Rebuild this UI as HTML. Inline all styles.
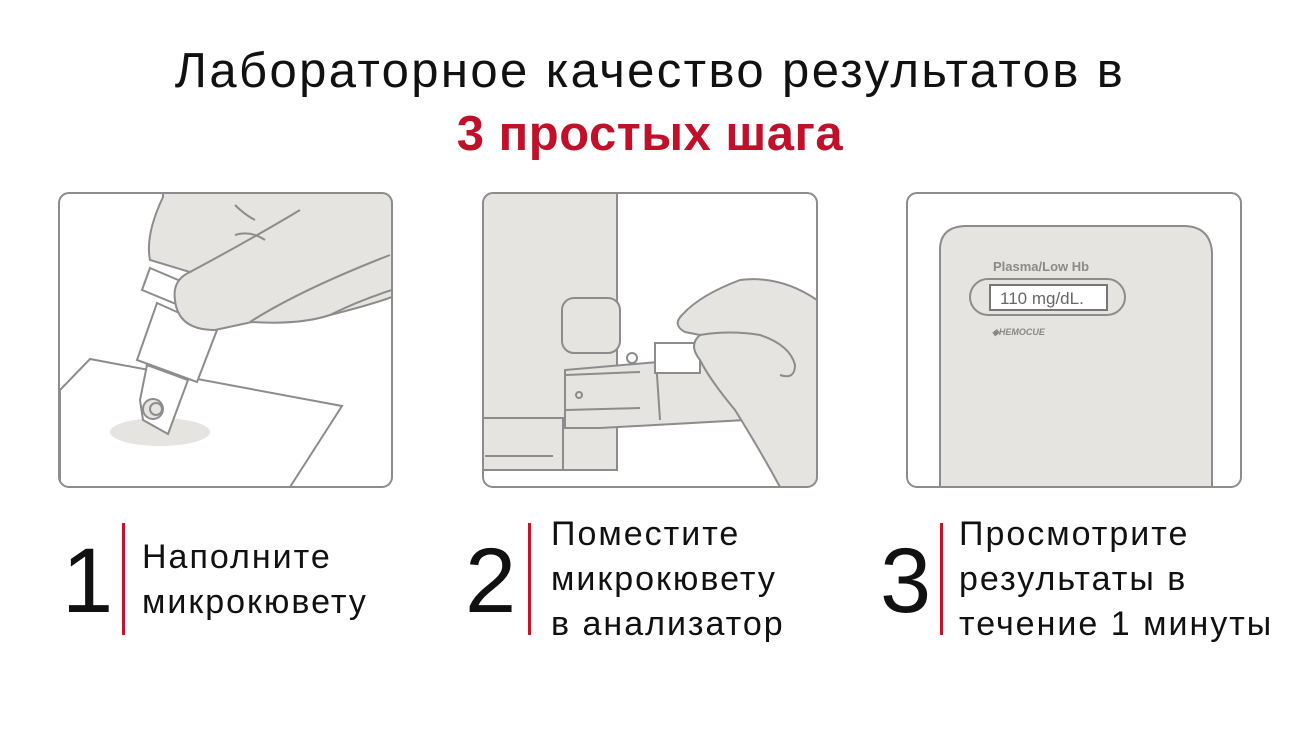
<!DOCTYPE html>
<html><head><meta charset="utf-8"><style>
body{margin:0;width:1300px;height:731px;background:#fff;font-family:"Liberation Sans","DejaVu Sans",sans-serif;position:relative;overflow:hidden}
.t{position:absolute;left:0;width:1300px;text-align:center;white-space:nowrap}
.num{position:absolute;font-size:92px;color:#111;line-height:1}
.bar{position:absolute;width:3px;background:#c4142c}
.lbl{position:absolute;font-size:34px;letter-spacing:2px;line-height:45px;color:#111;white-space:nowrap}
</style></head><body>
<div class="t" style="top:43px;font-size:49px;letter-spacing:2.4px;color:#111">Лабораторное качество результатов в</div>
<div class="t" style="top:106px;font-size:49px;letter-spacing:0.5px;font-weight:bold;color:#c0102a">3 простых шага</div>

<svg width="1300" height="731" style="position:absolute;left:0;top:0" fill="none" stroke="#8c8c8c" stroke-width="2">
<defs>
<clipPath id="c1"><rect x="59" y="193" width="333" height="294" rx="10"/></clipPath>
<clipPath id="c2"><rect x="483" y="193" width="334" height="294" rx="10"/></clipPath>
<clipPath id="c3"><rect x="907" y="193" width="334" height="294" rx="10"/></clipPath>
</defs>
<g clip-path="url(#c1)">
<polygon points="60,390 90,359 342,406 290,487 60,487" fill="#fff"/>
<ellipse cx="160" cy="432" rx="50" ry="14" fill="#e6e4e1" stroke="none"/>
<polygon points="157,303 217,330 197,382 137,360" fill="#fff"/>
<polygon points="147,365 188,380 168,434 143,420 140,400" fill="#fff"/>
<circle cx="153" cy="409" r="10" fill="#e6e4e1"/><circle cx="156" cy="409" r="6"/>
<polygon points="150,268 190,285 176,304 142,290" fill="#fff"/>
<path d="M163,193 L392,193 L392,297 Q370,305 330,315 Q300,325 252,322 L215,330 Q178,330 175,300 Q172,280 190,272 L150,260 Q145,235 163,197 Z" fill="#e6e4e1"/>
<path d="M190,272 Q250,240 300,210 M250,322 Q300,290 390,255 M330,315 Q360,300 392,290 M235,235 Q250,230 265,240 M235,205 Q245,215 255,220"/>
</g>
<rect x="59" y="193" width="333" height="294" rx="10"/>

<g clip-path="url(#c2)">
<rect x="470" y="180" width="147" height="290" fill="#e6e4e1"/>
<rect x="562" y="298" width="58" height="55" rx="12" fill="#e6e4e1"/>
<path d="M565,370 L740,355 L745,420 L600,428 L565,428 Z" fill="#e6e4e1"/>
<path d="M566,375 L640,372 M566,410 L640,408 M655,345 L660,420"/>
<circle cx="579" cy="395" r="3"/><circle cx="632" cy="358" r="5" fill="#fff"/>
<rect x="655" y="343" width="45" height="30" fill="#fff"/>
<path d="M470,418 L563,418 L563,470 L470,470 M485,456 L553,456"/>
<path d="M817,300 Q780,275 740,280 Q700,295 682,315 Q672,325 685,332 L700,335 Q688,345 700,360 Q710,380 735,410 Q760,450 780,487 L817,487 Z" fill="#e6e4e1"/>
<path d="M700,335 Q730,330 760,335 Q790,345 795,365 Q795,380 780,375"/>
</g>
<rect x="483" y="193" width="334" height="294" rx="10"/>

<g clip-path="url(#c3)">
<path d="M940,487 L940,250 Q940,227 965,226 L1185,226 Q1210,227 1212,252 L1212,487 Z" fill="#e6e4e1"/>
<rect x="970" y="279" width="155" height="36" rx="18"/>
<rect x="990" y="285" width="117" height="25" fill="#fff" stroke="#777"/>
</g>
<rect x="907" y="193" width="334" height="294" rx="10"/>
<text x="993" y="271" font-family="Liberation Sans" font-size="13" font-weight="bold" fill="#8a8a8a" stroke="none">Plasma/Low Hb</text>
<text x="1000" y="304" font-family="Liberation Sans" font-size="17" fill="#666" stroke="none">110 mg/dL.</text>
<text x="992" y="335" font-family="Liberation Sans" font-size="9" font-style="italic" font-weight="bold" fill="#888" stroke="none">◆HEMOCUE</text>
</svg>

<div class="num" style="left:62px;top:535px">1</div>
<div class="bar" style="left:122px;top:523px;height:112px"></div>
<div class="lbl" style="left:142px;top:535px">Наполните<br>микрокювету</div>

<div class="num" style="left:465px;top:535px">2</div>
<div class="bar" style="left:528px;top:523px;height:112px"></div>
<div class="lbl" style="left:551px;top:512px">Поместите<br>микрокювету<br>в анализатор</div>

<div class="num" style="left:880px;top:535px">3</div>
<div class="bar" style="left:940px;top:523px;height:112px"></div>
<div class="lbl" style="left:959px;top:512px">Просмотрите<br>результаты в<br>течение 1 минуты</div>
</body></html>
